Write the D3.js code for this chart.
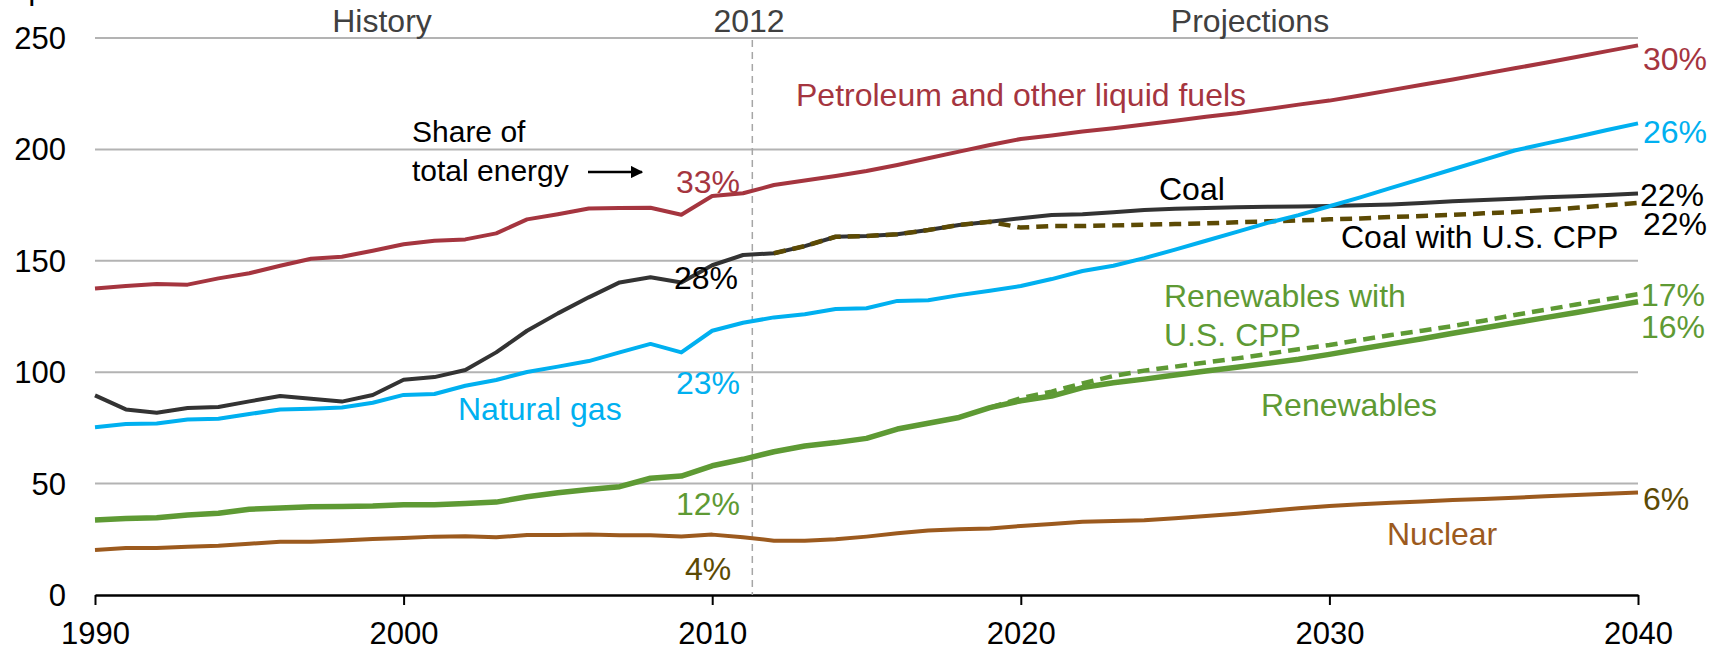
<!DOCTYPE html>
<html>
<head>
<meta charset="utf-8">
<script src="https://cdnjs.cloudflare.com/ajax/libs/d3/7.8.5/d3.min.js"></script>
<style>
  body { margin: 0; background: #fff; }
  svg { display: block; font-family: "Liberation Sans", Arial, sans-serif; }
</style>
</head>
<body>
<svg id="chart" width="1709" height="649"></svg>
<script>
var years = d3.range(1990, 2041);
var yTicks = [0, 50, 100, 150, 200, 250];
var xTicks = [1990, 2000, 2010, 2020, 2030, 2040];

var petroleum = [137.6, 138.7, 139.6, 139.3, 142.1, 144.4, 147.8, 150.9, 151.8, 154.5,
    157.4, 159.0, 159.6, 162.3, 168.6, 170.9, 173.5, 173.7, 173.8, 170.7,
    179.1, 180.3, 184.0, 186.0, 188.1, 190.3, 193.0, 196.0, 199.0, 202.0,
    204.7, 206.2, 208.0, 209.5, 211.2, 212.9, 214.7, 216.2, 218.1, 220.1,
    221.9, 224.2, 226.6, 229.0, 231.4, 233.9, 236.4, 238.9, 241.5, 244.1, 246.7];
var coal = [89.6, 83.3, 81.8, 83.9, 84.4, 86.9, 89.3, 88.1, 86.8, 89.8,
    96.6, 97.8, 101.0, 108.9, 118.6, 126.4, 133.6, 140.3, 142.6, 140.3,
    148.0, 152.6, 153.4, 156.6, 160.8, 161.1, 161.9, 163.8, 166.1, 167.5,
    169.1, 170.6, 170.9, 171.8, 172.8, 173.4, 173.7, 174.0, 174.3, 174.4,
    174.6, 174.9, 175.3, 175.9, 176.7, 177.3, 177.9, 178.5, 179.0, 179.5, 180.2];
var naturalGas = [75.3, 76.7, 77.0, 78.8, 79.1, 81.2, 83.3, 83.6, 84.2, 86.3,
    89.8, 90.2, 93.9, 96.5, 100.1, 102.5, 105.0, 108.9, 112.7, 108.9,
    118.6, 122.2, 124.6, 126.0, 128.4, 128.7, 132.0, 132.3, 134.6, 136.6,
    138.7, 141.8, 145.4, 147.8, 151.2, 155.0, 159.0, 163.0, 167.0, 170.5,
    174.5, 178.5, 182.7, 186.9, 191.1, 195.3, 199.5, 202.6, 205.6, 208.7, 211.7];
var renewables = [33.7, 34.3, 34.7, 35.9, 36.7, 38.5, 39.0, 39.6, 39.7, 39.9,
    40.5, 40.5, 41.1, 41.7, 44.1, 45.9, 47.4, 48.6, 52.4, 53.4,
    58.0, 60.9, 64.3, 66.9, 68.4, 70.3, 74.5, 77.1, 79.7, 84.1,
    87.2, 89.3, 93.1, 95.3, 96.9, 98.7, 100.5, 102.2, 104.0, 105.8,
    108.0, 110.4, 112.7, 115.0, 117.5, 119.8, 122.2, 124.5, 126.8, 129.2, 131.6];
var nuclear = [20.2, 21.1, 21.1, 21.7, 22.1, 23.0, 23.9, 23.9, 24.5, 25.1,
    25.6, 26.2, 26.4, 25.9, 26.9, 26.9, 27.2, 26.8, 26.8, 26.3,
    27.1, 25.9, 24.4, 24.4, 25.0, 26.2, 27.7, 28.9, 29.5, 29.9,
    31.0, 31.9, 32.9, 33.2, 33.5, 34.4, 35.5, 36.5, 37.7, 38.9,
    39.9, 40.7, 41.4, 42.0, 42.6, 43.1, 43.7, 44.3, 44.9, 45.4, 46.0];
// CPP cases only exist from the year they split off
var coalCppStart = 2012;
var coalCpp = [153.4, 156.6, 160.8, 161.1, 161.9, 163.8, 166.1, 167.5,
    164.9, 165.6, 165.6, 165.9, 166.2, 166.5, 166.8, 167.3, 167.7, 168.1,
    168.6, 169.0, 169.7, 170.1, 170.6, 171.3, 171.9, 172.8, 173.8, 174.9, 176.0];
var renewCppStart = 2019;
var renewCpp = [84.1, 88.3, 91.3, 95.0, 98.3, 100.7, 102.5, 104.4, 106.2, 108.2, 110.3,
    112.2, 114.5, 116.7, 118.6, 120.7, 123.1, 125.7, 128.0, 130.4, 132.7, 135.0];

var lastHistoryYear = 2011.3;

var svg = d3.select("#chart");
var x = d3.scaleLinear().domain([1990, 2040]).range([95, 1638]);
var y = d3.scaleLinear().domain([0, 250]).range([595, 38]);

// unit label, cut off at the top edge like the source
svg.append("text").attr("x", 18).attr("y", -1)
    .style("font-size", "31px").attr("fill", "#000")
    .text("quadrillion Btu");

// gridlines
svg.append("g").selectAll("line")
    .data(yTicks.filter(function(d) { return d > 0; }))
    .enter().append("line")
    .attr("x1", x(1990)).attr("x2", x(2040))
    .attr("y1", function(d) { return y(d); })
    .attr("y2", function(d) { return y(d); })
    .attr("stroke", "#b3b3b3").attr("stroke-width", 2);

// y labels
svg.append("g").selectAll("text")
    .data(yTicks).enter().append("text")
    .attr("x", 66).attr("y", function(d) { return y(d) + 11; })
    .attr("text-anchor", "end")
    .style("font-size", "31px").attr("fill", "#000")
    .text(function(d) { return d; });

// x axis
var xAxis = d3.axisBottom(x).tickValues(xTicks).tickFormat(d3.format("d"))
    .tickSize(10).tickSizeOuter(0);
var gx = svg.append("g").attr("transform", "translate(0," + y(0) + ")").call(xAxis);
gx.select(".domain").attr("stroke", "#000").attr("stroke-width", 2.5);
gx.selectAll(".tick line").attr("stroke", "#000").attr("stroke-width", 2);
gx.selectAll(".tick text").attr("fill", "#000").attr("dy", 0).attr("y", 49)
    .style("font-size", "31px").style("font-family", "Liberation Sans, Arial, sans-serif");

// history / projections divider
svg.append("line")
    .attr("x1", x(lastHistoryYear)).attr("x2", x(lastHistoryYear))
    .attr("y1", 40).attr("y2", y(0))
    .attr("stroke", "#a6a6a6").attr("stroke-width", 1.5)
    .attr("stroke-dasharray", "7,5");

var line = d3.line()
    .x(function(d) { return x(d.year); })
    .y(function(d) { return y(d.value); });

function pairs(values, start) {
    return values.map(function(v, i) { return {year: start + i, value: v}; });
}

var series = [
    {values: pairs(nuclear, 1990), color: "#9c5a1e", width: 4},
    {values: pairs(renewables, 1990), color: "#5e9a34", width: 5.5},
    {values: pairs(renewCpp, renewCppStart), color: "#5e9a34", width: 4.5, dash: "12,7"},
    {values: pairs(coal, 1990), color: "#333333", width: 4},
    {values: pairs(coalCpp, coalCppStart), color: "#5c4a04", width: 4.5, dash: "12,7"},
    {values: pairs(naturalGas, 1990), color: "#00b0f0", width: 4},
    {values: pairs(petroleum, 1990), color: "#a5353f", width: 4}
];

svg.append("g").selectAll("path")
    .data(series).enter().append("path")
    .attr("d", function(d) { return line(d.values); })
    .attr("fill", "none")
    .attr("stroke", function(d) { return d.color; })
    .attr("stroke-width", function(d) { return d.width; })
    .attr("stroke-dasharray", function(d) { return d.dash || null; })
    .attr("stroke-linejoin", "round");

// annotations
var labels = [
    {t: "History", x: 382, y: 32, c: "#404040", a: "middle"},
    {t: "2012", x: 749, y: 32, c: "#404040", a: "middle"},
    {t: "Projections", x: 1250, y: 32, c: "#404040", a: "middle"},
    {t: "Petroleum and other liquid fuels", x: 796, y: 106, c: "#a5353f"},
    {t: "Share of", x: 412, y: 142, c: "#000", s: 30},
    {t: "total energy", x: 412, y: 181, c: "#000", s: 30},
    {t: "33%", x: 676, y: 193, c: "#a5353f"},
    {t: "Coal", x: 1159, y: 200, c: "#000"},
    {t: "Coal with U.S. CPP", x: 1341, y: 248, c: "#000"},
    {t: "28%", x: 674, y: 289, c: "#000"},
    {t: "Renewables with", x: 1164, y: 307, c: "#5e9a34"},
    {t: "U.S. CPP", x: 1164, y: 346, c: "#5e9a34"},
    {t: "23%", x: 676, y: 394, c: "#00b0f0"},
    {t: "Renewables", x: 1261, y: 416, c: "#5e9a34"},
    {t: "Natural gas", x: 458, y: 420, c: "#00b0f0"},
    {t: "12%", x: 676, y: 515, c: "#5e9a34"},
    {t: "Nuclear", x: 1387, y: 545, c: "#9c5a1e"},
    {t: "4%", x: 685, y: 580, c: "#5c4a04"},
    {t: "30%", x: 1643, y: 70, c: "#a5353f"},
    {t: "26%", x: 1643, y: 143, c: "#00b0f0"},
    {t: "22%", x: 1640, y: 206, c: "#000"},
    {t: "22%", x: 1643, y: 235, c: "#000"},
    {t: "17%", x: 1641, y: 306, c: "#5e9a34"},
    {t: "16%", x: 1641, y: 338, c: "#5e9a34"},
    {t: "6%", x: 1643, y: 510, c: "#5c4a04"}
];

svg.append("g").selectAll("text")
    .data(labels).enter().append("text")
    .attr("x", function(d) { return d.x; })
    .attr("y", function(d) { return d.y; })
    .attr("text-anchor", function(d) { return d.a || "start"; })
    .attr("fill", function(d) { return d.c; })
    .style("font-size", function(d) { return (d.s || 32) + "px"; })
    .text(function(d) { return d.t; });

// arrow next to "total energy"
svg.append("defs").append("marker")
    .attr("id", "arrow").attr("viewBox", "0 0 10 10")
    .attr("refX", 9).attr("refY", 5)
    .attr("markerWidth", 5).attr("markerHeight", 5)
    .attr("orient", "auto")
    .append("path").attr("d", "M0,0L10,5L0,10z").attr("fill", "#000");
svg.append("line")
    .attr("x1", 588).attr("x2", 642).attr("y1", 172).attr("y2", 172)
    .attr("stroke", "#000").attr("stroke-width", 2.5)
    .attr("marker-end", "url(#arrow)");
</script>
</body>
</html>
